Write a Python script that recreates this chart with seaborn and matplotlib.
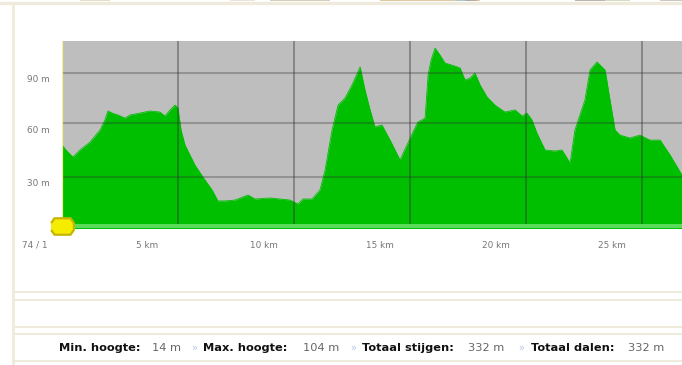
import numpy as np
import pandas as pd
import matplotlib
matplotlib.use("Agg")
import matplotlib.pyplot as plt
from matplotlib.lines import Line2D
from matplotlib.patches import Rectangle
from matplotlib.transforms import blended_transform_factory
import seaborn as sns

distance_km = [0,.17,.47,.78,1.21,1.64,1.85,1.98,2.16,2.41,2.72,2.93,3.36,3.79,4.22,4.44,4.66,4.87,5.0,5.13,
               5.30,5.73,6.16,6.47,6.72,7.03,7.46,8.02,8.32,8.97,9.40,9.83,10.17,10.39,10.78,11.12,11.34,11.64,11.90,12.2,
               12.5,12.85,13.06,13.28,13.49,13.79,14.14,14.57,14.87,15.13,15.34,15.65,15.78,15.91,16.08,16.29,16.51,16.94,17.16,17.37,
               17.59,17.8,18.02,18.32,18.66,19.09,19.53,19.83,20.04,20.26,20.47,20.82,21.25,21.55,21.9,22.11,22.54,22.76,23.06,23.41,
               23.62,23.84,24.05,24.48,24.91,25.34,25.78,26.21,26.72]
elevation_m = [48.5,45.6,41.5,45.6,50.2,57.1,62.9,68.1,66.9,65.8,64,65.8,66.9,68.1,67.5,65.2,68.7,71.5,69.8,57.1,
               48.5,36.9,28.3,22.5,16.2,16.2,16.7,19.6,17.3,17.9,17.3,16.7,14.4,17.3,17.3,22.5,34,57.1,71.5,75.6,
               83.1,93.5,80.2,68.7,58.9,60,51.3,39.8,48.5,56,61.7,64,88.9,97.5,104.4,100.4,95.8,94,92.9,86,
               87.1,90,83.1,76.2,71.5,67.5,68.7,65.2,66.9,62.9,55.4,45.6,45,45.6,38.1,57.1,74.4,91.7,96.4,91.7,
               74.4,57.1,54.2,52.5,54.2,51.3,51.3,42.7,31.2]
y_ticks = [30, 61, 90]
y_labels = ["30 m", "60 m", "90 m"]
x_ticks = [5, 10, 15, 20, 25]
x_labels = ["5 km", "10 km", "15 km", "20 km", "25 km"]
start_label = "74 / 1"
footer = [("Min. hoogte:", True, 59), ("14 m", False, 152), ("»", None, 191),
          ("Max. hoogte:", True, 203), ("104 m", False, 303), ("»", None, 350),
          ("Totaal stijgen:", True, 362), ("332 m", False, 468), ("»", None, 518),
          ("Totaal dalen:", True, 531), ("332 m", False, 628)]
strip_colors = ["#D8C9A0", "#B8B090", "#C9A968", "#8A8478", "#A8A498", "#D9D6C4", "#8FC6D8",
                "#A09A98", "#C4A860", "#B8C8A0"]
strip_x = [80, 270, 400, 575, 660, 230, 455, 465, 380, 605]
strip_w = [30, 60, 80, 30, 60, 25, 15, 12, 20, 25]

W, H = 682, 365
sns.set_theme(style="white")
plt.rcParams['font.family'] = ['DejaVu Sans']
fig = plt.figure(figsize=(W/100, H/100), dpi=100, facecolor="white")
ax = fig.add_axes([62/W, 1-228/H, (W-62)/W, (228-41)/H])
df = pd.DataFrame({"km": distance_km, "m": elevation_m})
ax.set_facecolor("#BEBEBE")
ax.fill_between(df["km"], 0, df["m"], color="#00BE00", lw=0, zorder=1)
sns.lineplot(data=df, x="km", y="m", ax=ax, color="#00BE00", lw=0.6, zorder=1, errorbar=None)
ax.set_xlim(0, 620/23.2)
ax.set_ylim(0.57, 108.5)
ax.set_xlabel(""); ax.set_ylabel("")
ax.set_xticks([]); ax.set_yticks([])
for s in ax.spines.values():
    s.set_visible(False)
for k in x_ticks:
    ax.axvline(k, color="#303030", alpha=0.5, lw=1.1, zorder=2)
for v in y_ticks:
    ax.axhline(v, color="#303030", alpha=0.3, lw=1.5, zorder=2)
ax.axhspan(0.57, 2.9, color="#5ADC5A", lw=0, zorder=3)
ax.axvline(0, color="#F4F08A", lw=1.6, zorder=4)
octagon = [(-1, -.3), (-.7, -.72), (.7, -.72), (1, -.3), (1, .3), (.7, .72), (-.7, .72), (-1, .3)]
ax.scatter([0], [1.5], marker=octagon, s=270, c="#F5EC00", edgecolors="#C4B600", linewidths=1.6,
           clip_on=False, zorder=6)

tc = "#777777"
ytrans = blended_transform_factory(fig.transFigure, ax.transData)
for v, l in zip(y_ticks, y_labels):
    ax.annotate(l, (38/W, v), xycoords=ytrans, xytext=(0, -5), textcoords="offset points",
                ha="center", va="center", fontsize=6.4, color=tc)
for k, l in zip(x_ticks, x_labels):
    ax.annotate(l, (k, 0.57), xycoords="data", xytext=(-22, -12.5), textcoords="offset points",
                ha="center", va="center", fontsize=6.4, color=tc, annotation_clip=False)
fig.text(35/W, 1-245/H, start_label, ha="center", va="center", fontsize=6.4, color=tc)

beige = "#EFEBDC"
fig.add_artist(Line2D([13/W, 13/W], [0, 1-4/H], color=beige, lw=2))
fig.add_artist(Line2D([0, 1], [1-2.5/H, 1-2.5/H], color=beige, lw=2.4))
for x0, w, c in zip(strip_x, strip_w, strip_colors):
    fig.add_artist(Rectangle((x0/W, 1-1.2/H), w/W, 1.2/H, transform=fig.transFigure, color=c, lw=0, alpha=0.6))
for yy in [292, 300, 327, 334, 361]:
    fig.add_artist(Line2D([13/W, 1], [1-yy/H, 1-yy/H], color=beige, lw=1.5))
for text, bold, x in footer:
    if bold is None:
        fig.text(x/W, 1-348/H, text, fontsize=7, color="#B5C8E8", va="center")
    else:
        fig.text(x/W, 1-348/H, text, fontsize=8.2 if bold else 8.2, va="center",
                 fontweight="bold" if bold else "normal",
                 color="#111111" if bold else "#666666")
fig.savefig("out.png", dpi=100)
